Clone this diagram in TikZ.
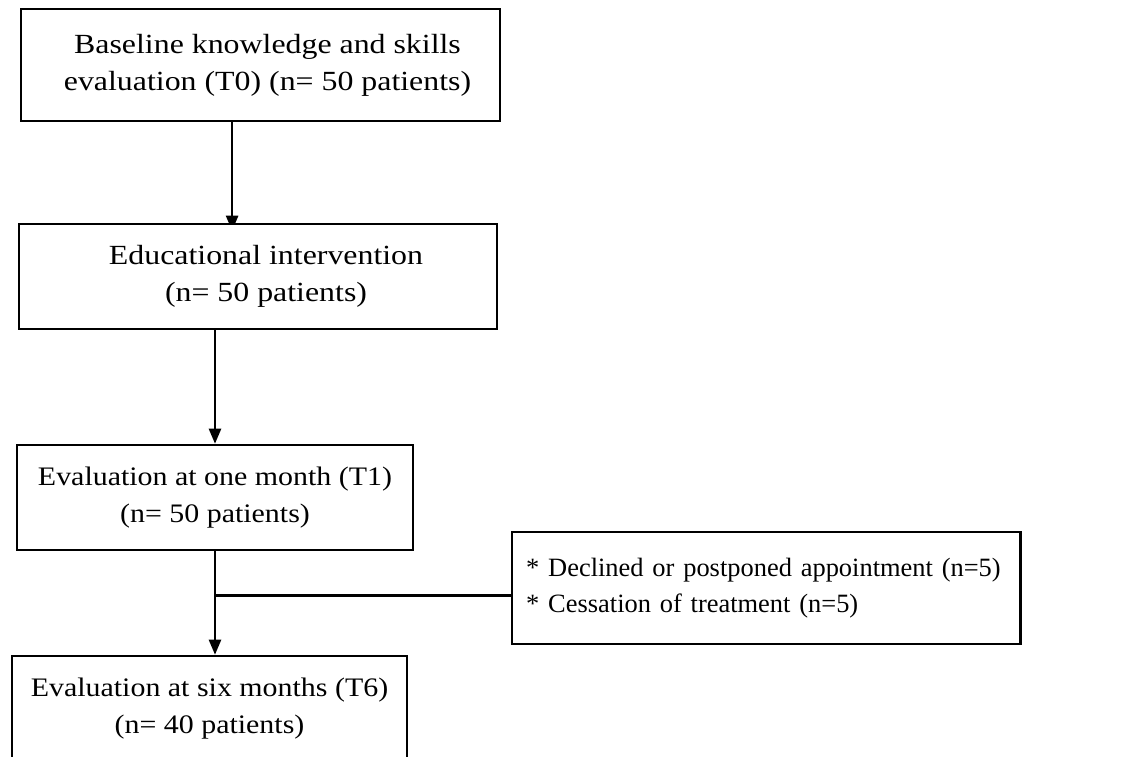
\documentclass[tikz,border=0pt]{standalone}
\usepackage{fontspec}
\setmainfont{Liberation Serif}
\newfontfamily\widefont[FakeStretch=1.15]{Liberation Serif}
\newfontfamily\midfont[FakeStretch=1.12]{Liberation Serif}
\usetikzlibrary{arrows.meta,positioning,backgrounds}

\begin{document}
\begin{tikzpicture}[
    x=0.025cm, y=-0.025cm,
    stage/.style={draw, line width=1.7pt, fill=white, align=center,
      font=\widefont\fontsize{19.7pt}{26.3pt}\selectfont, minimum height=2.625cm},
    late/.style={stage, font=\midfont\fontsize{19pt}{26.3pt}\selectfont},
    note/.style={draw, line width=1.7pt, fill=white, align=left,
      font=\fontsize{18.8pt}{25.6pt}\selectfont, text width=12.0cm,
      inner xsep=0.35cm, inner ysep=0.65cm},
    flow/.style={line width=1.9pt, -{Triangle[width=0.3cm,length=0.38cm]}},
]
\useasboundingbox (0,0) rectangle (1139,757);

\node[stage, minimum width=11.975cm, minimum height=2.8cm] (base) at (260.5,65)
  {\hspace{0.35cm}Baseline knowledge and skills\\\hspace{0.35cm}evaluation (T0) (n= 50 patients)};
\node[stage, minimum width=11.95cm] (edu) at (258,276.5)
  {\hspace{0.4cm}Educational intervention\\\hspace{0.4cm}(n= 50 patients)};
\node[late, minimum width=9.9cm] (t1) at (215,497.5)
  {Evaluation at one month (T1)\\(n= 50 patients)};
\node[late, minimum width=9.875cm] (t6) at (209.5,708.5)
  {Evaluation at six months (T6)\\(n= 40 patients)};
\node[note, anchor=north west] (drop) at (511,531)
  {\mbox{{*} Declined or postponed appointment (n=5)}\\
   \mbox{{*} Cessation of treatment (n=5)}};

\begin{scope}[on background layer]
\draw[flow] ([xshift=-0.71cm]base.south) -- ([xshift=-0.71cm,yshift=-0.2cm]base.south |- edu.north);
\end{scope}
\draw[flow] (edu.south -| t1.north) -- (t1.north);
\draw[flow] (t1.south) -- (t1.south |- t6.north);
\coordinate (split) at ([yshift=-0.18cm]drop.west -| t1.south);
\draw[line width=1.9pt] (split) -- (split -| drop.west);
\end{tikzpicture}
\end{document}
